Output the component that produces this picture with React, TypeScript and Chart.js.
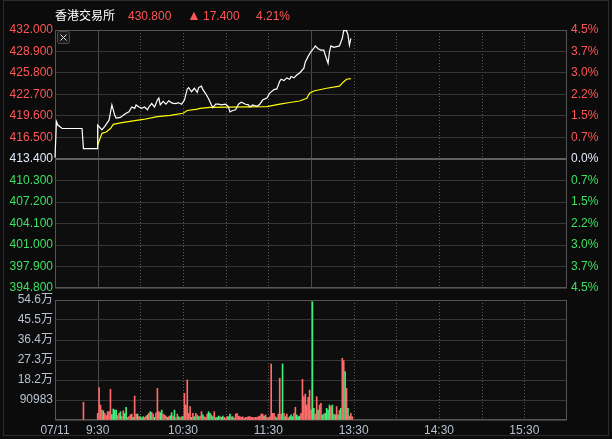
import React, { useEffect, useRef } from 'react';
import { Chart, registerables } from 'chart.js';

Chart.register(...registerables);

// ---------- data ----------
const prevClose = 413.4;
const headerName = '香港交易所';
const headerLast = '430.800';
const headerChange = '17.400';
const headerPct = '4.21%';

const priceTimes = [
  '09:00', '09:01', '09:02', '09:05', '09:19', '09:20', '09:30',
  '09:30', '09:33', '09:35', '09:38', '09:40', '09:42', '09:43', '09:46', '09:48', '09:50',
  '09:52', '09:54', '09:56', '09:57', '09:59', '10:01', '10:03', '10:05', '10:06', '10:08',
  '10:10', '10:12', '10:13', '10:14', '10:16', '10:18', '10:20', '10:22', '10:24', '10:27',
  '10:29', '10:31', '10:33', '10:34', '10:36', '10:38', '10:40', '10:41', '10:43', '10:44',
  '10:46', '10:48', '10:50', '10:51', '10:53', '10:55', '10:57', '11:00', '11:02', '11:03',
  '11:05', '11:07', '11:09', '11:11', '11:14', '11:16', '11:17', '11:19', '11:22', '11:24',
  '11:26', '11:29', '11:31', '11:34', '11:36', '11:38', '11:39', '11:41', '11:43', '11:45',
  '11:46', '11:48', '11:50', '11:52', '11:55', '11:56', '11:58', '12:00', '13:02', '13:03',
  '13:05', '13:07', '13:09', '13:10', '13:12', '13:13', '13:14', '13:16', '13:18', '13:20',
  '13:22', '13:23', '13:25', '13:26', '13:27', '13:28',
];
const prices = [
  413.6, 418.8, 418.3, 417.8, 417.8, 414.9, 414.9,
  418.3, 417.6, 418.1, 419.0, 421.2, 419.7, 419.3, 419.4, 419.7, 420.0,
  420.2, 420.9, 420.7, 421.2, 420.9, 420.7, 420.9, 420.5, 420.9, 421.4,
  420.9, 421.9, 422.2, 421.2, 421.7, 421.3, 421.8, 421.5, 421.4, 421.5,
  421.3, 421.9, 423.5, 423.7, 423.1, 423.6, 423.0, 423.7, 423.9, 423.4,
  422.8, 422.1, 421.2, 420.8, 421.3, 421.3, 421.2, 421.3, 420.9, 420.2,
  420.4, 420.5, 421.3, 421.6, 421.3, 421.2, 420.9, 421.2, 421.0, 421.3,
  421.9, 422.2, 422.9, 423.4, 423.5, 424.6, 424.9, 424.7, 425.1, 424.9,
  425.3, 425.1, 425.5, 425.8, 426.5, 427.4, 428.2, 428.9, 429.4, 429.7,
  429.3, 429.1, 429.1, 428.4, 427.2, 428.9, 429.7, 429.5, 429.6, 429.7,
  430.8, 431.9, 431.9, 431.3, 429.8, 430.8,
];

const avgTimes = [
  '09:30', '09:33', '09:36', '09:39', '09:41', '09:46', '09:55', '10:02', '10:12', '10:21',
  '10:30', '10:33', '10:40', '10:42', '10:49', '11:29', '11:38', '11:45', '11:52', '11:57',
  '11:59', '13:02', '13:11', '13:20', '13:23', '13:25', '13:28',
];
const avgPrices = [
  415.4, 417.1, 417.3, 417.8, 418.4, 418.6, 418.9, 419.1, 419.5, 419.7,
  420.0, 420.4, 420.6, 420.7, 420.85, 420.95, 421.3, 421.55, 421.76, 422.15,
  422.9, 423.2, 423.6, 423.9, 424.55, 424.9, 425.0,
];

const priceTicks = [394.8, 397.9, 401.0, 404.1, 407.2, 410.3, 413.4, 416.5, 419.6, 422.7, 425.8, 428.9, 432.0];
const volumeTicks = [0, 90983, 181966, 272949, 363932, 454915, 545898];
const timeTickTimes = ['09:00', '09:30', '10:30', '11:30', '13:30', '14:30', '15:30'];
const timeTickLabels = ['07/11', '9:30', '10:30', '11:30', '13:30', '14:30', '15:30'];

const auctionTime = '09:20';
const auctionVolumeK = 80.5;
const volumeStart = '09:30';
// volume per minute from 09:30, in thousands of shares
const volumesK = [
  30, 147, 68, 45, 42, 30, 20, 38, 38, 140,
  25, 50, 45, 45, 20, 30, 38, 15, 42, 30,
  58, 12, 15, 24, 27, 12, 109, 27, 27, 15,
  15, 10, 15, 12, 18, 23, 30, 38, 35, 27,
  12, 33, 144, 38, 33, 45, 27, 23, 18, 12,
  15, 19, 33, 18, 45, 10, 27, 15, 10, 15,
  15, 121, 68, 182, 30, 61, 12, 30, 15, 30,
  23, 15, 18, 38, 23, 15, 12, 27, 38, 30,
  23, 15, 38, 10, 12, 18, 15, 12, 18, 12,
  8, 15, 15, 27, 15, 15, 8, 27, 30, 18,
  15, 12, 15, 8, 12, 12, 15, 15, 12, 12,
  10, 12, 12, 15, 18, 27, 27, 18, 23, 12,
  8, 15, 255, 30, 30, 15, 10, 27, 190, 27,
  255, 30, 15, 27, 10, 15, 23, 15, 30, 58,
  23, 15, 18, 30, 185, 106, 118, 68, 103, 136,
  45, 538, 53, 27, 106, 45, 68, 76, 23, 27,
  30, 53, 45, 68, 61, 68, 27, 23, 61, 23,
  44, 53, 281, 270, 220, 144, 53, 18, 30, 15,
];
const volumeDirs = [
  'rrrrgrrrrr', 'ggggrrgrrg', 'grrrrgrrgr', 'grgrrgrgrr', 'grrrggrrrg',
  'rggrgrrgrr', 'grrrrrgrgr', 'rgrrgrrrgg', 'rgrgggrggr', 'rrggrgrrrr',
  'rrrrrrrrrr', 'rrrrrrrgrr', 'rrrrrrgrrr', 'grgrrgggrr', 'gggrrrrrrr',
  'rggrrgrrgr', 'ggggrgrgrg', 'rgrrgrgrrr',
].join('');

// ---------- styles ----------
const BG = '#0b0b0b';
const PLOT_BG = '#0e0e0e';
const GRID = '#363636';
const BORDER = '#555555';
const RED = '#ff5656';
const GREEN = '#3de063';
const NEUTRAL = '#e4ecff';
const AXIS_GREY = '#b6c0d0';
const RED_BAR = '#ff6a6a';
const GREEN_BAR = '#3cf07a';
const FONT = '"Liberation Sans", Arial, "Noto Sans CJK SC", sans-serif';

function sessionMinute(t: string): number {
  const [h, m] = t.split(':').map(Number);
  const clock = h * 60 + m;
  return clock - 540 - (clock >= 780 ? 60 : 0);
}

const panelPlugin = {
  id: 'panel',
  beforeDraw(chart: any) {
    const { ctx, chartArea: a, scales } = chart;
    ctx.save();
    ctx.fillStyle = PLOT_BG;
    ctx.fillRect(a.left, a.top, a.right - a.left, a.bottom - a.top);
    const xs = scales.x;
    for (let k = 1; k < 12; k++) {
      const x = Math.round(xs.getPixelForValue(k * 30)) + 0.5;
      ctx.beginPath();
      if (k === 1 || k === 6) {
        ctx.setLineDash([]);
        ctx.strokeStyle = '#4a4a4a';
      } else {
        ctx.setLineDash([1, 2]);
        ctx.strokeStyle = '#5a5a5a';
      }
      ctx.lineWidth = 1;
      ctx.moveTo(x, a.top);
      ctx.lineTo(x, a.bottom);
      ctx.stroke();
    }
    ctx.restore();
  },
  beforeDatasetsDraw(chart: any) {
    const { ctx, chartArea: a } = chart;
    ctx.save();
    ctx.strokeStyle = BORDER;
    ctx.lineWidth = 1;
    ctx.setLineDash([]);
    ctx.strokeRect(Math.round(a.left) + 0.5, Math.round(a.top) + 0.5, Math.round(a.right - a.left) - 1, Math.round(a.bottom - a.top) - 1);
    ctx.restore();
  },
};

const closeIconPlugin = {
  id: 'closeIcon',
  afterDraw(chart: any) {
    const { ctx, chartArea: a } = chart;
    const x = a.left + 2.5;
    const y = a.top + 1.5;
    const s = 12;
    ctx.save();
    ctx.fillStyle = '#1c1c1c';
    ctx.strokeStyle = '#4a4a4a';
    ctx.lineWidth = 1;
    ctx.beginPath();
    ctx.roundRect(x, y, s, s, 2);
    ctx.fill();
    ctx.stroke();
    ctx.strokeStyle = '#e0e0e0';
    ctx.beginPath();
    ctx.moveTo(x + 3, y + 3);
    ctx.lineTo(x + s - 3, y + s - 3);
    ctx.moveTo(x + s - 3, y + 3);
    ctx.lineTo(x + 3, y + s - 3);
    ctx.stroke();
    ctx.restore();
  },
};

function priceColor(v: number) {
  if (Math.abs(v - prevClose) < 1e-6) return NEUTRAL;
  return v > prevClose ? RED : GREEN;
}

export default function App() {
  const priceRef = useRef<HTMLCanvasElement>(null);
  const volRef = useRef<HTMLCanvasElement>(null);

  useEffect(() => {
    const priceData = priceTimes.map((t, i) => ({ x: sessionMinute(t), y: prices[i] }));
    const avgData = avgTimes.map((t, i) => ({ x: sessionMinute(t), y: avgPrices[i] }));

    const priceChart = new Chart(priceRef.current as HTMLCanvasElement, {
      type: 'line',
      data: {
        datasets: [
          { data: priceData, borderColor: '#ffffff', borderWidth: 1.2, pointRadius: 0, tension: 0, clip: false as any },
          { data: avgData, borderColor: '#ffff00', borderWidth: 1.2, pointRadius: 0, tension: 0 },
        ],
      },
      options: {
        animation: false,
        responsive: false,
        events: [],
        layout: { padding: { top: 30, bottom: 12, left: 0, right: 0 } },
        plugins: { legend: { display: false }, tooltip: { enabled: false } },
        scales: {
          x: { type: 'linear', min: 0, max: 360, display: false },
          y: {
            position: 'left',
            min: 394.8,
            max: 432,
            afterFit: (s: any) => { s.width = 55; },
            afterBuildTicks: (s: any) => { s.ticks = priceTicks.map((v) => ({ value: v })); },
            ticks: {
              callback: (v: any) => Number(v).toFixed(3),
              color: (c: any) => priceColor(c.tick.value),
              font: { family: FONT, size: 12 },
              padding: 2,
            },
            grid: {
              color: (c: any) => (Math.abs(c.tick.value - prevClose) < 1e-6 ? '#606060' : GRID),
              lineWidth: (c: any) => (Math.abs(c.tick.value - prevClose) < 1e-6 ? 2 : 1),
              drawTicks: false,
            },
            border: { display: false },
          },
          yR: {
            position: 'right',
            min: 394.8,
            max: 432,
            afterFit: (s: any) => { s.width = 45; },
            afterBuildTicks: (s: any) => { s.ticks = priceTicks.map((v) => ({ value: v })); },
            ticks: {
              callback: (v: any) => Math.abs(((Number(v) - prevClose) / prevClose) * 100).toFixed(1) + '%',
              color: (c: any) => priceColor(c.tick.value),
              font: { family: FONT, size: 12 },
              padding: 4,
            },
            grid: { display: false, drawTicks: false },
            border: { display: false },
          },
        },
      } as any,
      plugins: [panelPlugin, closeIconPlugin],
    });

    const volData = [{ x: sessionMinute(auctionTime), y: auctionVolumeK * 1000 }].concat(
      volumesK.map((v, i) => ({ x: sessionMinute(volumeStart) + i, y: v * 1000 }))
    );
    const volColors = ['r'].concat(volumeDirs.split('')).map((d) => (d === 'r' ? RED_BAR : GREEN_BAR));

    const volChart = new Chart(volRef.current as HTMLCanvasElement, {
      type: 'bar',
      data: {
        datasets: [
          { data: volData as any, backgroundColor: volColors, barThickness: 1, borderWidth: 0 },
        ],
      },
      options: {
        animation: false,
        responsive: false,
        events: [],
        layout: { padding: { top: 10, bottom: 0, left: 0, right: 45 } },
        plugins: { legend: { display: false }, tooltip: { enabled: false } },
        scales: {
          x: {
            type: 'linear',
            min: 0,
            max: 360,
            offset: false,
            afterFit: (s: any) => { s.height = 19; },
            afterBuildTicks: (s: any) => { s.ticks = timeTickTimes.map((t) => ({ value: sessionMinute(t) })); },
            ticks: {
              callback: (_v: any, i: number) => timeTickLabels[i],
              color: AXIS_GREY,
              font: { family: FONT, size: 12 },
              autoSkip: false,
              maxRotation: 0,
              padding: 3,
            },
            grid: { display: false, drawTicks: false },
            border: { display: false },
          },
          y: {
            position: 'left',
            min: 0,
            max: 545898,
            afterFit: (s: any) => { s.width = 55; },
            afterBuildTicks: (s: any) => { s.ticks = volumeTicks.map((v) => ({ value: v })); },
            ticks: {
              callback: (v: any) => {
                const n = Number(v);
                if (n === 0) return '';
                if (n >= 100000) return (n / 10000).toFixed(1) + '万';
                return String(n);
              },
              color: AXIS_GREY,
              font: { family: FONT, size: 12 },
              padding: 2,
            },
            grid: { color: GRID, drawTicks: false },
            border: { display: false },
          },
        },
      } as any,
      plugins: [panelPlugin],
    });

    return () => {
      priceChart.destroy();
      volChart.destroy();
    };
  }, []);

  const textStyle: React.CSSProperties = {
    position: 'absolute',
    top: 8,
    fontFamily: FONT,
    fontSize: 12,
    lineHeight: '16px',
    whiteSpace: 'nowrap',
  };

  return (
    <div style={{ position: 'fixed', left: 0, top: 0, width: 612, height: 439, background: BG, overflow: 'hidden' }}>
      <div style={{ position: 'absolute', left: 3, top: 0, width: 606, height: 436, border: '1px solid #2c2c2c', boxSizing: 'border-box' }} />
      <canvas ref={priceRef} width={612} height={300} style={{ position: 'absolute', left: 0, top: 0, width: 612, height: 300 }} />
      <canvas ref={volRef} width={612} height={149} style={{ position: 'absolute', left: 0, top: 290, width: 612, height: 149 }} />
      <div style={{ ...textStyle, left: 55, color: '#ffffff' }}>{headerName}</div>
      <div style={{ ...textStyle, left: 128, color: RED }}>{headerLast}</div>
      <div style={{ ...textStyle, left: 187, top: 7, fontSize: 14, color: RED }}>▲</div>
      <div style={{ ...textStyle, left: 203, color: RED }}>{headerChange}</div>
      <div style={{ ...textStyle, left: 256, color: RED }}>{headerPct}</div>
    </div>
  );
}
